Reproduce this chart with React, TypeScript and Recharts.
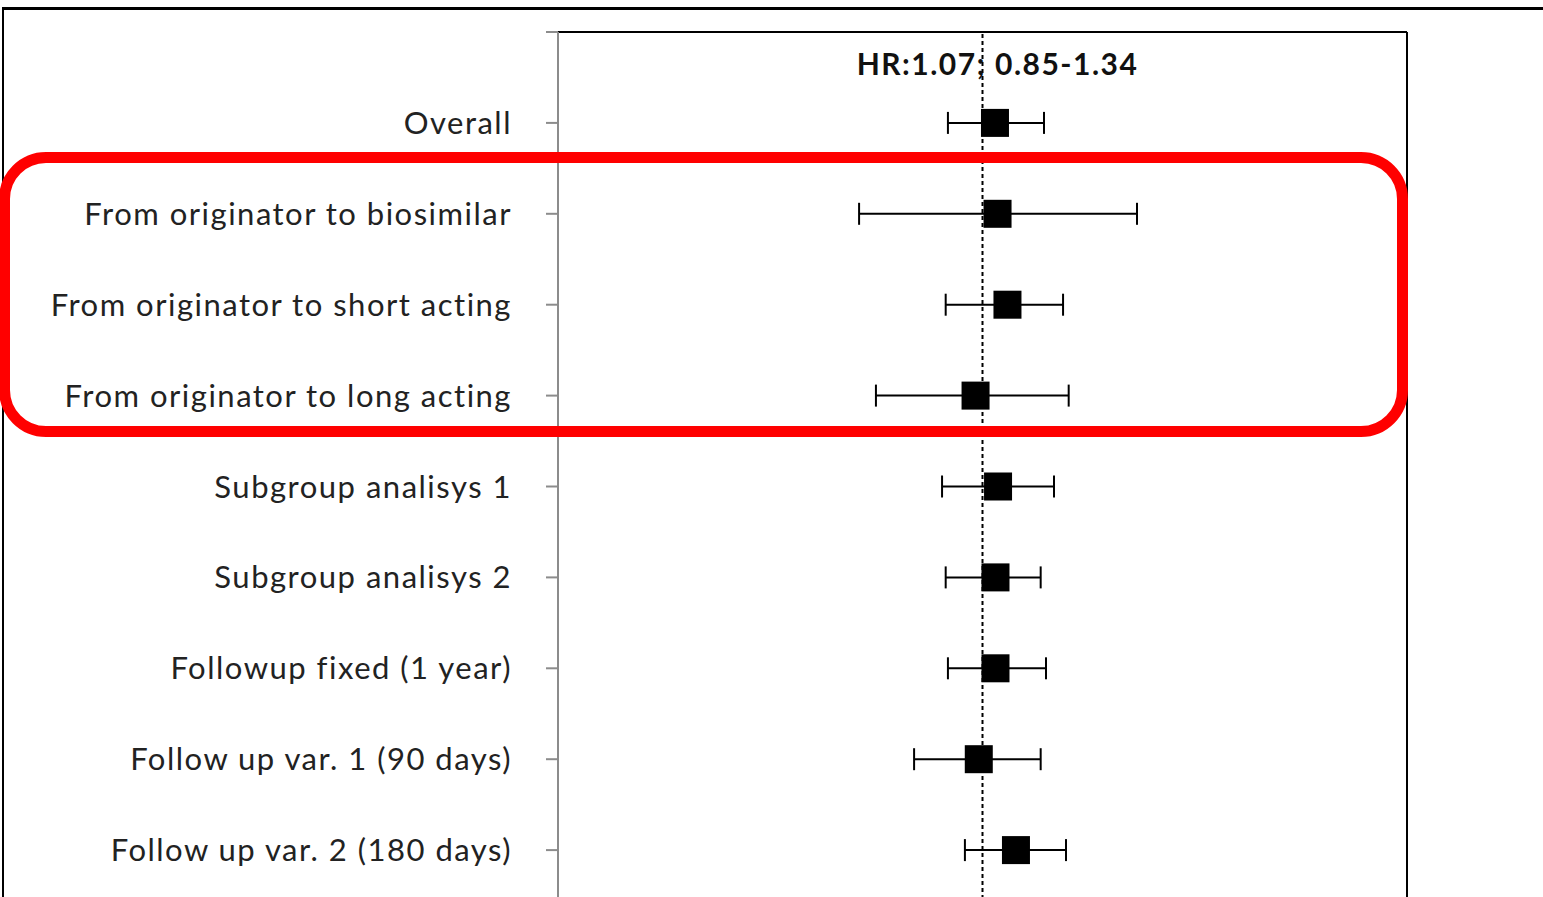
import React from "react";
import {
  ScatterChart,
  Scatter,
  XAxis,
  YAxis,
  ErrorBar,
  ReferenceLine,
} from "recharts";

// rows, top to bottom
const labels = [
  "Overall",
  "From originator to biosimilar",
  "From originator to short acting",
  "From originator to long acting",
  "Subgroup analisys 1",
  "Subgroup analisys 2",
  "Followup fixed (1 year)",
  "Follow up var. 1 (90 days)",
  "Follow up var. 2 (180 days)",
];
const hr = [1.07, 1.085, 1.145, 0.963, 1.088, 1.073, 1.073, 0.98, 1.199];
const lower = [0.829, 0.512, 0.819, 0.561, 0.803, 0.819, 0.829, 0.69, 0.909];
const upper = [1.396, 2.312, 1.548, 1.596, 1.474, 1.371, 1.411, 1.371, 1.573];
const yTicks = [0, 1, 2, 3, 4, 5, 6, 7, 8, 9, 10];
const hrLabel = "HR:1.07; 0.85-1.34";

const data = labels.map((name, i) => ({
  name,
  row: i + 1,
  hr: hr[i],
  err: [hr[i] - lower[i], upper[i] - hr[i]],
}));

const font = "Lato, 'Open Sans', sans-serif";

const Square = (props: any) => {
  const { cx, cy } = props;
  if (cx == null || cy == null) return null;
  return <rect x={cx - 14} y={cy - 14} width={28} height={28} fill="#000" />;
};

const HrText = (props: any) => {
  const vb = props.viewBox || {};
  return (
    <text
      x={(vb.x || 0) + 15}
      y={(vb.y || 0) + 43}
      textAnchor="middle"
      fontFamily={font}
      fontWeight="bold"
      fontSize={30}
      letterSpacing={1.5}
      fill="#111"
    >
      {hrLabel}
    </text>
  );
};

const App = () => {
  return (
    <div
      style={{
        position: "fixed",
        top: 0,
        left: 0,
        width: 1543,
        height: 897,
        overflow: "hidden",
        background: "#fff",
      }}
    >
      <div
        style={{
          position: "absolute",
          left: 2,
          top: 7,
          width: 1600,
          height: 1000,
          borderTop: "3px solid #000",
          borderLeft: "2px solid #000",
        }}
      />
      <div style={{ position: "absolute", left: 0, top: 0 }}>
        <ScatterChart
          width={1543}
          height={1000}
          margin={{ top: 32, right: 136, bottom: 59, left: 0 }}
        >
          <XAxis
            type="number"
            dataKey="hr"
            scale="log"
            domain={[0.1, 10]}
            allowDataOverflow
            hide
          />
          <YAxis
            type="number"
            dataKey="row"
            domain={[0, 10]}
            ticks={yTicks}
            interval={0}
            reversed
            width={558}
            stroke="#8c8c8c"
            strokeWidth={2}
            tickSize={12}
            tickMargin={34}
            tickFormatter={(v: number) => labels[v - 1] || ""}
            tick={{
              fontSize: 31,
              fill: "#222",
              fontFamily: font,
              letterSpacing: 1.5,
            }}
          />
          <ReferenceLine y={0} stroke="#000" strokeWidth={2} />
          <ReferenceLine x={10} stroke="#000" strokeWidth={2} />
          <ReferenceLine
            x={1}
            stroke="#000"
            strokeWidth={2}
            strokeDasharray="4 3"
            label={HrText}
          />
          <Scatter
            data={data}
            shape={Square}
            isAnimationActive={false}
          >
            <ErrorBar
              dataKey="err"
              direction="x"
              width={11}
              stroke="#000"
              strokeWidth={2}
              isAnimationActive={false}
            />
          </Scatter>
        </ScatterChart>
      </div>
      <div
        style={{
          position: "absolute",
          left: -1,
          top: 152,
          width: 1409,
          height: 285,
          boxSizing: "border-box",
          border: "11px solid #ff0000",
          borderRadius: 47,
        }}
      />
    </div>
  );
};

export default App;
